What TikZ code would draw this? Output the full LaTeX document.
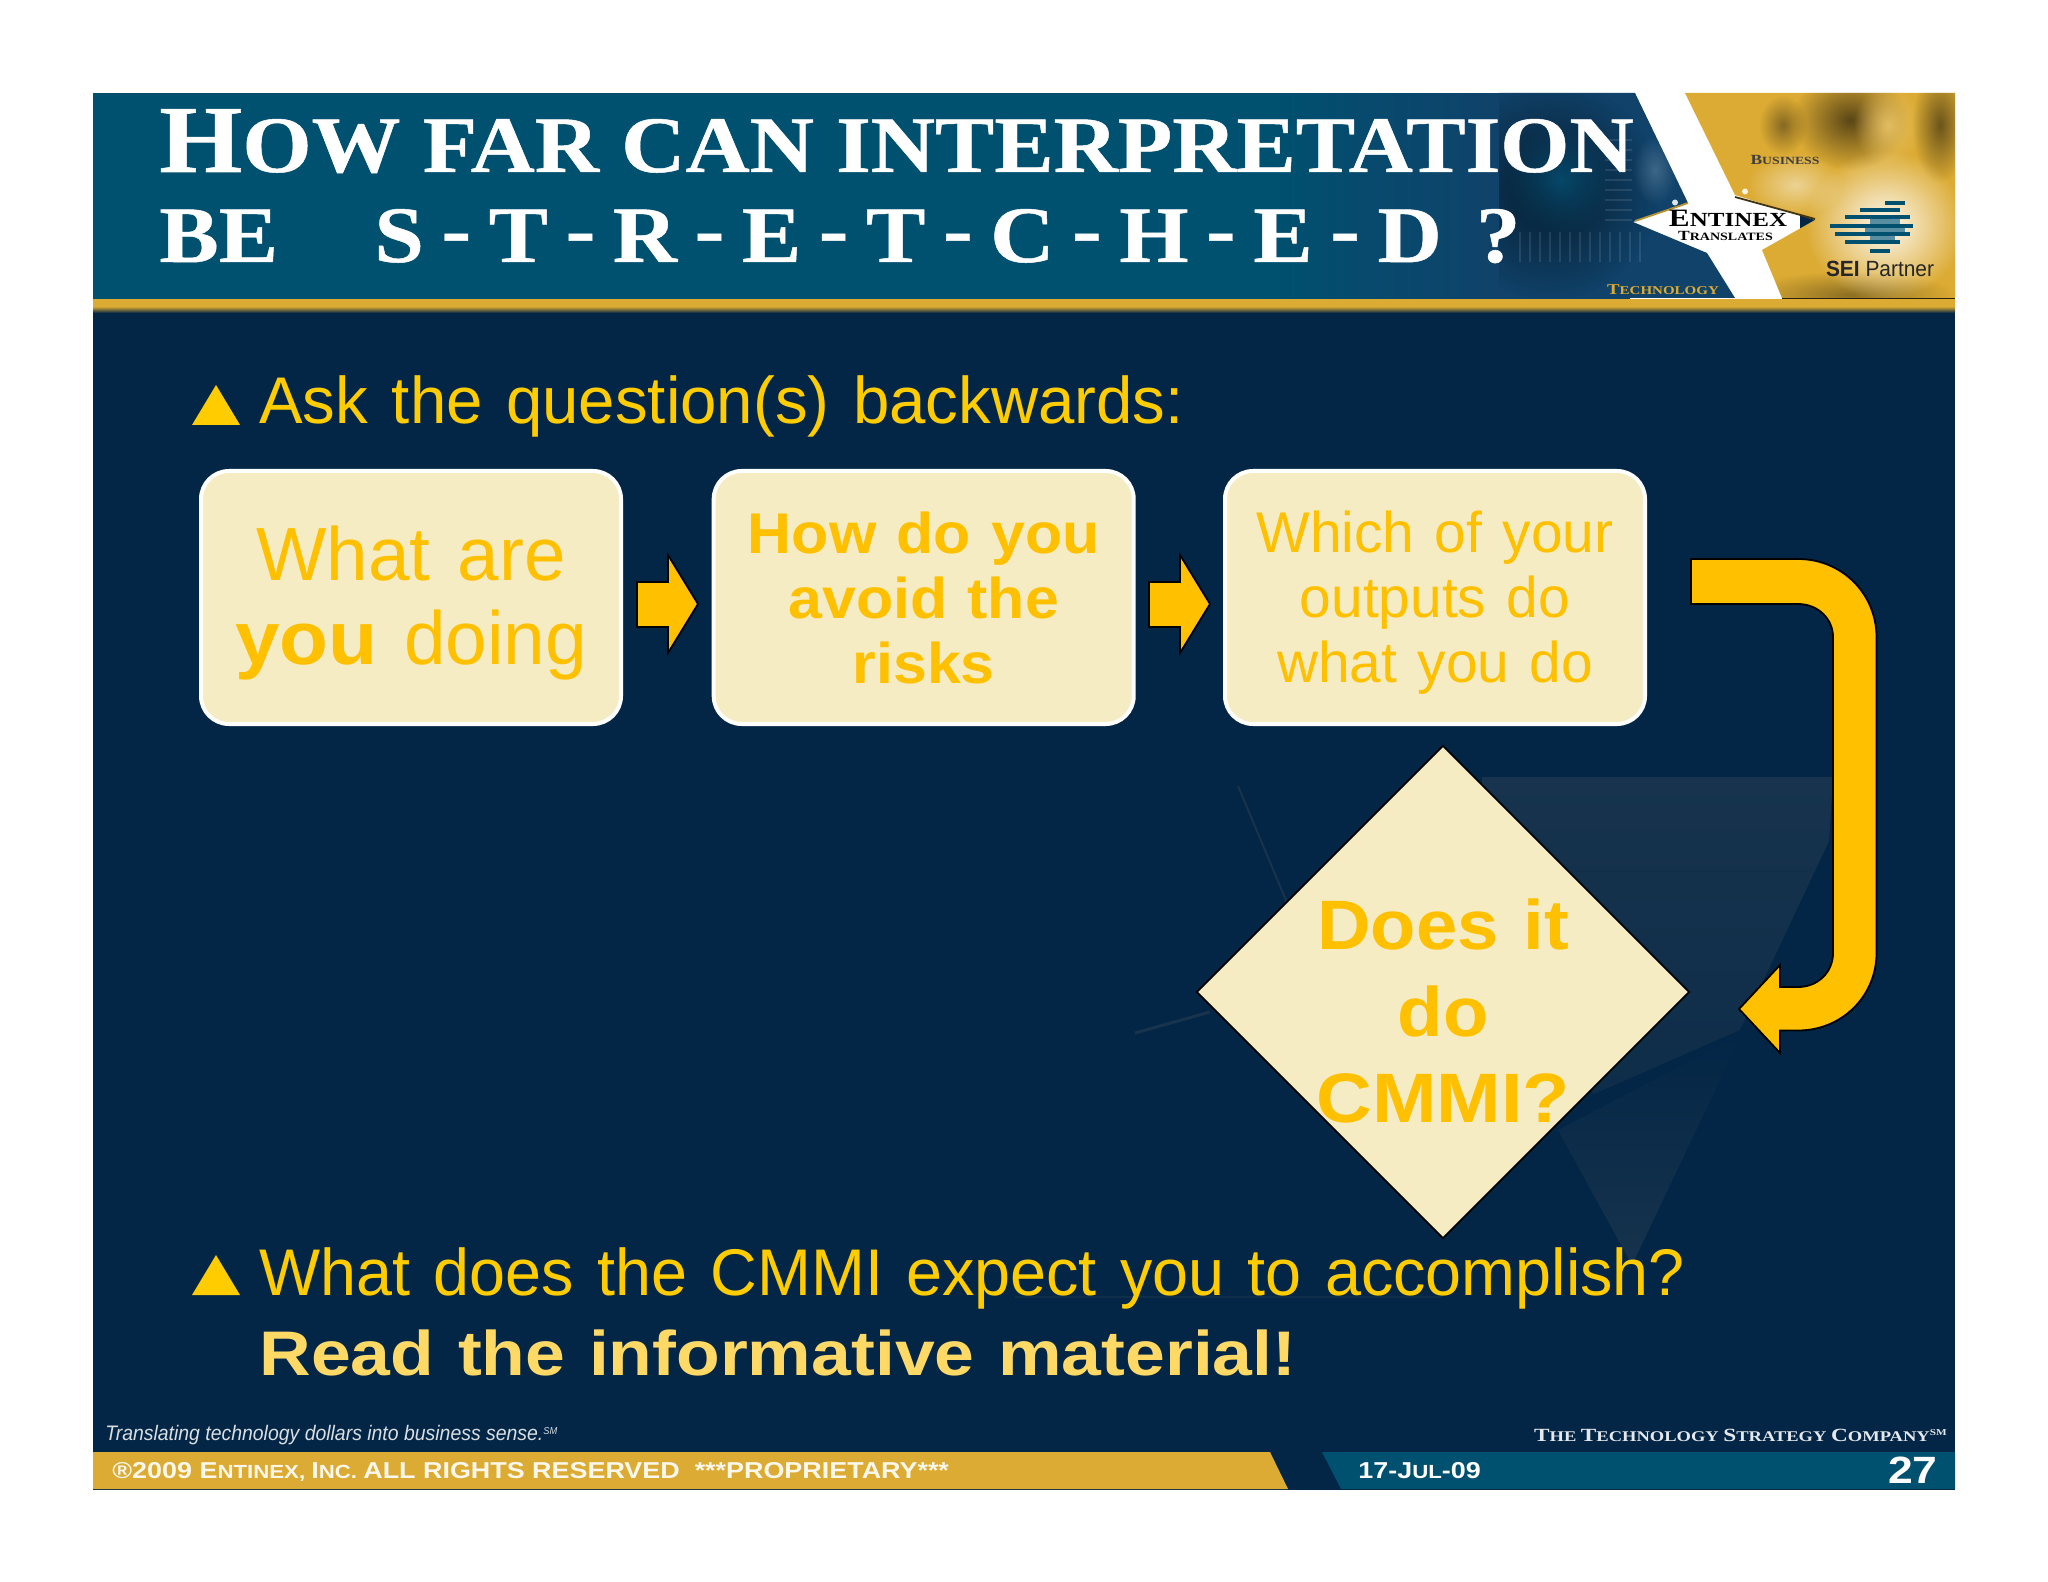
\documentclass[tikz,border=0pt]{standalone}
\usepackage{fontspec}
\usetikzlibrary{shapes.geometric,fadings}
\newfontfamily\bodyf[FakeStretch=0.99,WordSpace=1.3]{Liberation Sans}
\newfontfamily\bodyg[FakeStretch=0.98,WordSpace=1.3]{Liberation Sans}
\newfontfamily\boldf[FakeStretch=1.06,WordSpace=1.2]{Liberation Sans Bold}
\newfontfamily\boldmf[FakeStretch=1.105,WordSpace=1.2]{Liberation Sans Bold}
\newfontfamily\boldwf[FakeStretch=1.135,WordSpace=1.2]{Liberation Sans Bold}
\newfontfamily\capf[FakeStretch=1.112,FakeBold=0.6]{Liberation Serif Bold}
\newfontfamily\capsmall[FakeStretch=1.25]{Liberation Serif Bold}
\newfontfamily\narrowf[FakeStretch=0.925]{Liberation Sans Italic}
\newfontfamily\footf[FakeStretch=1.17]{Liberation Sans Bold}
\newfontfamily\seif[FakeStretch=0.95]{Liberation Sans}
\definecolor{navy}{HTML}{032646}
\definecolor{teal}{HTML}{00506F}
\definecolor{tealdark}{HTML}{10426A}
\definecolor{goldbar}{HTML}{DCAB33}
\definecolor{golddark}{HTML}{B8912F}
\definecolor{yel}{HTML}{FFC000}
\definecolor{bulletyel}{HTML}{FFCC00}
\definecolor{softyel}{HTML}{FFD966}
\definecolor{cream}{HTML}{F5ECC3}
\definecolor{faint}{HTML}{17334D}
\tikzfading[name=softball,inner color=transparent!5,outer color=transparent!100]
\newcommand{\dsh}{\hspace{8.8pt}\raisebox{3pt}{-}\hspace{8.8pt}}
\tikzset{
  boxn/.style={draw=white,line width=2pt,rounded corners=14pt,fill=cream,minimum width=210pt,minimum height=126.5pt,inner sep=0pt,align=center,text=yel},
  arrowshape/.style={fill=yel,draw=black,line width=0.9pt,line join=miter},
  lbl/.style={anchor=base west,inner sep=0pt},
  lblr/.style={anchor=base east,inner sep=0pt},
  lblc/.style={anchor=base,inner sep=0pt},
  stripe/.style={line width=1.6pt},
  blob/.style={fill=#1,path fading=softball},
}
\begin{document}
\begin{tikzpicture}[x=0.5pt,y=-0.5pt]
\useasboundingbox (0,0) rectangle (2048,1582);
\fill[white] (0,0) rectangle (2048,1582);
% slide
\fill[navy] (93,93) rectangle (1955,1490);
% faint background facets
\shade[top color=faint,bottom color=faint!55!navy] (1482,777) -- (1833,777) -- (1829,841) -- (1740,1030) -- (1594,1094) -- (1480,1000) -- cycle;
\shade[top color=navy,bottom color=faint] (1558,1130) -- (1742,1034) -- (1632,1265) -- cycle;
\draw[faint,line width=1pt] (1238,786) -- (1288,905);
\draw[faint,line width=1.5pt] (1135,1033) -- (1210,1012);
\draw[faint!60!navy,line width=1pt] (1015,1297) -- (1442,1297);
% header
\fill[teal] (93,93) rectangle (1270,300);
\shade[left color=teal,right color=tealdark] (1270,93) rectangle (1500,300);
\fill[tealdark] (1499,93) rectangle (1640,300);
\fill[white] (1260,60) rectangle (1640,93);
\shade[top color=goldbar,bottom color=navy,middle color=goldbar] (93,300) rectangle (1955,313);
\fill[white] (1630,93) rectangle (1800,299);
\fill[tealdark] (1499,93) -- (1635,93) -- (1688,203) -- (1633,222) -- (1707,253) -- (1735,298) -- (1499,298) -- cycle;
% chip
\begin{scope}
\clip (1499,93) -- (1635,93) -- (1688,203) -- (1633,222) -- (1707,253) -- (1735,298) -- (1499,298) -- cycle;
\fill[blob=black!60!tealdark] (1550,190) ellipse (110 and 110);
\fill[blob=teal!60!tealdark] (1560,180) ellipse (55 and 55);
\fill[blob=white!20!tealdark] (1655,170) ellipse (22 and 35);
\foreach \px in {1520,1530,...,1640}{\draw[white,opacity=0.1,line width=1pt] (\px,232) -- (\px,262);}
\foreach \py in {140,150,...,225}{\draw[white,opacity=0.1,line width=1pt] (1605,\py) -- (1632,\py);}
\end{scope}
% gold photo panel
\fill[goldbar] (1685,93) -- (1955,93) -- (1955,298) -- (1782,298) -- (1762,250) -- (1815,220) -- (1735,195) -- cycle;
\begin{scope}
\clip (1685,93) -- (1955,93) -- (1955,298) -- (1782,298) -- (1762,250) -- (1815,220) -- (1735,195) -- cycle;
\fill[blob=black!55!golddark] (1850,120) ellipse (58 and 50);
\fill[blob=white!25!goldbar] (1888,125) ellipse (34 and 42);
\fill[blob=black!45!golddark] (1940,125) ellipse (28 and 58);
\fill[blob=black!30!golddark] (1783,125) ellipse (24 and 30);
\fill[blob=white!50!goldbar] (1795,185) ellipse (48 and 32);
\fill[blob=black!25!golddark] (1850,295) ellipse (105 and 24);
\fill[blob=white] (1885,225) ellipse (80 and 75);
\end{scope}
\draw[black!80!goldbar,line width=0.8pt] (1782,298.5) -- (1955,298.5);
\draw[black!70!goldbar,line width=0.9pt] (1735,197) -- (1815,219);
\draw[golddark,line width=0.9pt] (1688,203) -- (1635,221);
\fill[white!85!teal] (1675,202.5) circle (3);
\fill[white!85!goldbar] (1745,191.5) circle (3);
% title
\node[lbl,text=white] (t1) at (159,172) {\capf\fontsize{48}{48}\selectfont H\fontsize{40}{40}\selectfont OW FAR CAN INTERPRETATION};
\node[lbl,text=white] (t2) at (159,262) {\capf\fontsize{40}{40}\selectfont BE};
\node[lbl,text=white] (t3) at (374,262) {\capf\fontsize{40}{40}\selectfont S\dsh T\dsh R\dsh E\dsh T\dsh C\dsh H\dsh E\dsh D\hspace{6pt} ?};
% logo texts
\node[lblc,text=black!75] (lb) at (1785,165) {\capsmall\fontsize{7}{7}\selectfont B\fontsize{5.5}{5.5}\selectfont USINESS};
\node[lblc,text=black] (le) at (1728,227) {\capsmall\fontsize{12.5}{12.5}\selectfont E\fontsize{10}{10}\selectfont NTINEX};
\node[lblc,text=black] (ltr) at (1725.5,241) {\capsmall\fontsize{7}{7}\selectfont T\fontsize{5.6}{5.6}\selectfont RANSLATES};
\node[lblc,text=goldbar] (lte) at (1663,295) {\capsmall\fontsize{7.5}{7.5}\selectfont T\fontsize{6}{6}\selectfont ECHNOLOGY};
\node[lblc,text=black!85] (lsei) at (1880,277) {\seif\fontsize{11}{11}\selectfont\textbf{SEI} Partner};
\foreach \yy/\xa/\xb/\c in {203/1885/1905/teal,210/1860/1900/teal,217/1845/1910/teal,226/1830/1913/teal,234/1835/1910/teal,242/1845/1900/teal,251/1870/1890/teal}{
  \draw[\c,stripe] (\xa,\yy) -- (\xb,\yy);
}
\fill[teal!65!white] (1870,219) rectangle (1900,224);
\fill[teal!65!white] (1865,228) rectangle (1905,232);
\fill[teal!65!white] (1870,236) rectangle (1895,240);
% bullet 1
\fill[bulletyel] (192,425) -- (240,425) -- (216,385) -- cycle;
\node[lbl,text=bulletyel] (q1) at (259,424) {\bodyf\fontsize{33}{33}\selectfont Ask the question(s) backwards:};
% boxes
\node[boxn,font=\bodyf\fontsize{37.7}{42}\selectfont] (bx1) at (411,597.5) {\rule{0pt}{32.5pt}What are\\{\boldf you} doing};
\node[boxn,font=\boldf\fontsize{28.7}{32.5}\selectfont] (bx2) at (923.7,597.5) {How do you\\avoid the\\risks};
\node[boxn,font=\bodyf\fontsize{28.7}{32.5}\selectfont] (bx3) at (1435,597.5) {\rule{0pt}{25.5pt}Which of your\\outputs do\\what you do};
% connectors
\filldraw[arrowshape] (637,582) -- (668,582) -- (668,555) -- (698,604) -- (668,653) -- (668,627) -- (637,627) -- cycle;
\filldraw[arrowshape] (1149,582) -- (1180,582) -- (1180,555) -- (1210,604) -- (1180,653) -- (1180,627) -- (1149,627) -- cycle;
\filldraw[arrowshape] (1691,559) -- (1798,559) .. controls (1842,559) and (1876.5,594) .. (1876.5,637) -- (1876.5,953) .. controls (1876.5,996) and (1842,1030.5) .. (1798,1030.5) -- (1780,1030.5) -- (1780,1053) -- (1739,1009) -- (1780,965) -- (1780,987) -- (1798,987) .. controls (1818,987) and (1833,972) .. (1833,953) -- (1833,637) .. controls (1833,619) and (1818,604) .. (1798,604) -- (1691,604) -- cycle;
% diamond
\node[diamond,draw=black,line width=0.9pt,fill=cream,minimum width=246.5pt,minimum height=246.5pt,aspect=1,inner sep=0pt] (dm) at (1443,992) {};
\node[lblc,text=yel] (d1) at (1443,949) {\boldf\fontsize{35}{35}\selectfont Does it};
\node[lblc,text=yel] (d2) at (1443,1036) {\boldf\fontsize{35}{35}\selectfont do};
\node[lblc,text=yel] (d3) at (1443,1122) {\boldmf\fontsize{35}{35}\selectfont CMMI?};
% bullet 2
\fill[bulletyel] (192,1295) -- (240,1295) -- (216,1255) -- cycle;
\node[lbl,text=bulletyel] (q2) at (259,1295) {\bodyg\fontsize{33}{33}\selectfont What does the CMMI expect you to accomplish?};
\node[lbl,text=softyel] (q3) at (259,1375) {\boldwf\fontsize{31.5}{31.5}\selectfont Read the informative material!};
% footer
\fill[goldbar] (93,1452) -- (1270,1452) -- (1288,1489) -- (93,1489) -- cycle;
\fill[teal] (1322,1452) -- (1955,1452) -- (1955,1489) -- (1341,1489) -- cycle;
\node[lbl,text=white!85!navy] (f1) at (105,1440) {\narrowf\fontsize{10.5}{10.5}\selectfont Translating technology dollars into business sense.\raisebox{3pt}{\fontsize{5}{5}\selectfont SM}};
\node[lblr,text=white!90!navy] (f2) at (1947,1441) {\capsmall\fontsize{9.3}{9.3}\selectfont T\fontsize{7.4}{7.4}\selectfont HE \fontsize{9.3}{9.3}\selectfont T\fontsize{7.4}{7.4}\selectfont ECHNOLOGY \fontsize{9.3}{9.3}\selectfont S\fontsize{7.4}{7.4}\selectfont TRATEGY \fontsize{9.3}{9.3}\selectfont C\fontsize{7.4}{7.4}\selectfont OMPANY\raisebox{3pt}{\fontsize{4.5}{4.5}\selectfont SM}};
\node[lbl,text=white!90!goldbar] (f3) at (112,1478) {\footf\fontsize{11.5}{11.5}\selectfont ®2009 E\fontsize{9.5}{9.5}\selectfont NTINEX, \fontsize{11.5}{11.5}\selectfont I\fontsize{9.5}{9.5}\selectfont NC. \fontsize{11.5}{11.5}\selectfont ALL RIGHTS RESERVED\ \ ***PROPRIETARY***};
\node[lbl,text=white] (f4) at (1358,1478) {\footf\fontsize{11.5}{11.5}\selectfont 17-J\fontsize{9.5}{9.5}\selectfont UL\fontsize{11.5}{11.5}\selectfont -09};
\node[lblr,text=white] (f5) at (1938,1483) {\footf\fontsize{19}{19}\selectfont 27};
\end{tikzpicture}
\end{document}
